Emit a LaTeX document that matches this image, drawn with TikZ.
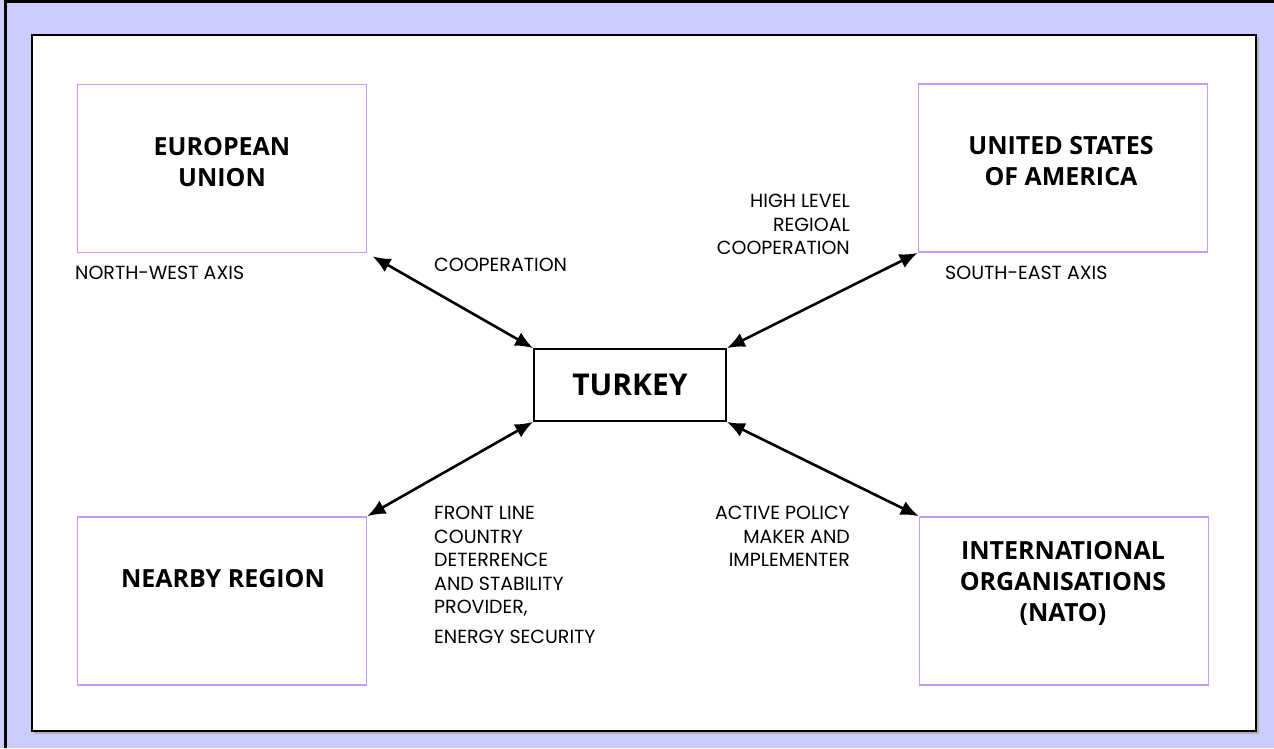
\documentclass[tikz,border=0pt]{standalone}
\usepackage{fontspec}
\setmainfont{Open Sans}
\newfontfamily\gothfont{Poppins}
\usetikzlibrary{arrows.meta}

\definecolor{frameblue}{RGB}{204,204,255}
\definecolor{boxlilac}{RGB}{204,153,255}

\tikzset{
  actor/.style={draw=boxlilac, line width=1.7pt, minimum width=289pt, minimum height=168pt, inner sep=0pt},
  actorname/.style={font=\fontsize{25}{31}\selectfont\bfseries, align=center, inner sep=0pt},
  role/.style={font=\gothfont\fontsize{19}{23.5}\selectfont, inner sep=0pt},
  link/.style={{Latex[length=18pt,width=15pt]}-{Latex[length=18pt,width=15pt]}, line width=2.6pt}
}

\begin{document}
\begin{tikzpicture}[x=1pt, y=-1pt]
            \useasboundingbox (0,0) rectangle (1274,748);
            % Frame
            \fill[frameblue] (0,0) rectangle (1274,748);
            \draw[line width=2.7pt] (5.4,748) -- (5.4,1.35) -- (1274,1.35);
            \draw[gray!60, line width=1.5pt] (1258,37) -- (1258,733) -- (34,733);
            \draw[fill=white, line width=2pt] (32,35) rectangle (1256,731);

            % Turkey
            \node[draw, line width=1.7pt, minimum width=192pt, minimum height=72pt,
                  font=\fontsize{30}{36}\selectfont\bfseries] (tk) at (630,385) {TURKEY};

            % Partners
            \node[actor] (eu) at (222,168.5) {};
            \node[actorname] (eutxt) at (222,162.5) {EUROPEAN\\UNION};
            \node[actor] (usa) at (1063,168) {};
            \node[actorname] (usatxt) at (1061,161) {UNITED STATES\\OF AMERICA};
            \node[actor] (near) at (222,601) {};
            \node[actorname] (neartxt) at (223,579) {NEARBY REGION};
            \node[actor] (nato) at (1064,601) {};
            \node[actorname] (natotxt) at (1063,583) {INTERNATIONAL\\ORGANISATIONS\\(NATO)};

            % Links
            \draw[link, shorten <=6pt] (eu.south east) -- (tk.north west);
            \draw[link] (tk.north east) -- (usa.south west);
            \draw[link] (tk.south west) -- (near.north east);
            \draw[link] (tk.south east) -- (nato.north west);

            % Roles
            \node[role, anchor=west] (nwaxis) at (75,273) {NORTH-WEST AXIS};
            \node[role, anchor=west] (seaxis) at (945,273) {SOUTH-EAST AXIS};
            \node[role, anchor=west] (coop) at (434,265) {COOPERATION};
            \node[role, anchor=north east, align=right] (hlcoop) at (850,194)
                 {HIGH LEVEL\\REGIOAL\\COOPERATION};
            \node[role, anchor=north west, align=left] (front) at (434,506)
                 {FRONT LINE\\COUNTRY\\DETERRENCE\\AND STABILITY\\PROVIDER,\\[6pt]ENERGY SECURITY};
            \node[role, anchor=north east, align=right] (active) at (850,506)
                 {ACTIVE POLICY\\MAKER AND\\IMPLEMENTER};
\end{tikzpicture}
\end{document}
